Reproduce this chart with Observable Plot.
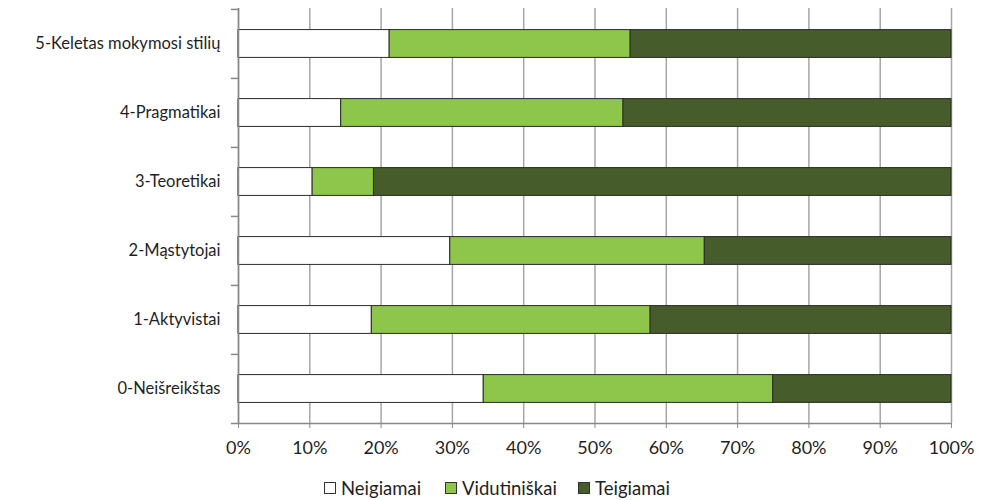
<!DOCTYPE html>
<html><head><meta charset="utf-8">
<script src="https://cdn.jsdelivr.net/npm/d3@7"></script>
<script src="https://cdn.jsdelivr.net/npm/@observablehq/plot@0.6"></script>
<style>
body{margin:0;background:#fff;font-family:Lato,"Open Sans",sans-serif;}
#wrap{position:relative;width:981px;height:500px;}
#legend{position:absolute;left:0;top:476px;width:981px;height:24px;font-size:18.5px;color:#1f1f1f;}
.item{position:absolute;top:0;display:flex;align-items:center;height:24px;}
.sw{width:12px;height:12px;border:1px solid #333;box-sizing:border-box;margin-right:5px;}
</style>
</head><body><div id="wrap"><div id="chart"></div><div id="legend"></div></div>
<script>
const categories = ["5-Keletas mokymosi stilių","4-Pragmatikai","3-Teoretikai","2-Mąstytojai","1-Aktyvistai","0-Neišreikštas"];
const seriesNames = ["Neigiamai","Vidutiniškai","Teigiamai"];
const neigiamai = [21.2,14.4,10.4,29.7,18.7,34.4];
const vidutiniskai = [33.8,39.6,8.6,35.7,39.1,40.6];
const teigiamai = [45.0,46.0,81.0,34.6,42.2,25.0];
const xTicks = [0,10,20,30,40,50,60,70,80,90,100];
const colors = ["#ffffff","#8dc64a","#465c2a"];

const seriesValues = [neigiamai, vidutiniskai, teigiamai];
const data = categories.flatMap((c,i)=>seriesNames.map((s,j)=>({cat:c, series:s, v:seriesValues[j][i]})));

const H = 470, mT = 8, mB = 47;
const step = (H - mT - mB) / categories.length;

const chart = Plot.plot({
  width: 981, height: H,
  marginLeft: 238, marginRight: 30, marginTop: mT, marginBottom: mB,
  x: {domain:[0,100], label:null},
  y: {domain: categories, padding: 0, label: null},
  color: {domain: seriesNames, range: colors},
  style: {fontFamily: "Lato, 'Open Sans', sans-serif", fontSize: "16.5px", color: "#1f1f1f", background: "#fff"},
  marks: [
    Plot.ruleX(xTicks, {stroke:"#a6a6a6", strokeWidth:1.5}),
    Plot.barX(data, Plot.stackX({x:"v", y:"cat", fill:"series", order: seriesNames, stroke:"#2b2b2b", strokeWidth:1, insetTop: (step-28)/2, insetBottom: (step-28)/2})),
    Plot.ruleY(categories, {x1:-1, x2:0, dy:-step/2, stroke:"#888", strokeWidth:1.5}),
    Plot.ruleY([categories[categories.length-1]], {x1:-1, x2:100, dy:step/2, stroke:"#888", strokeWidth:1.5}),
    Plot.ruleX([0], {stroke:"#888", strokeWidth:1.5}),
    Plot.axisX({ticks: xTicks, tickFormat: d => d + "%", tickSize: 5, tickPadding: 13, stroke:"#888", fill:"#1f1f1f", fontSize: 18}),
    Plot.axisY({tickSize: 0, tickPadding: 18, fill:"#1f1f1f"})
  ]
});
document.getElementById("chart").appendChild(chart);

const legendLeft = [324, 445, 578];
const legend = document.getElementById("legend");
seriesNames.forEach((s,i)=>{
  const it = document.createElement("div"); it.className="item"; it.style.left = legendLeft[i] + "px";
  const sw = document.createElement("div"); sw.className="sw"; sw.style.background = colors[i];
  const t = document.createElement("span"); t.textContent = s;
  it.appendChild(sw); it.appendChild(t); legend.appendChild(it);
});
</script>
</body></html>
